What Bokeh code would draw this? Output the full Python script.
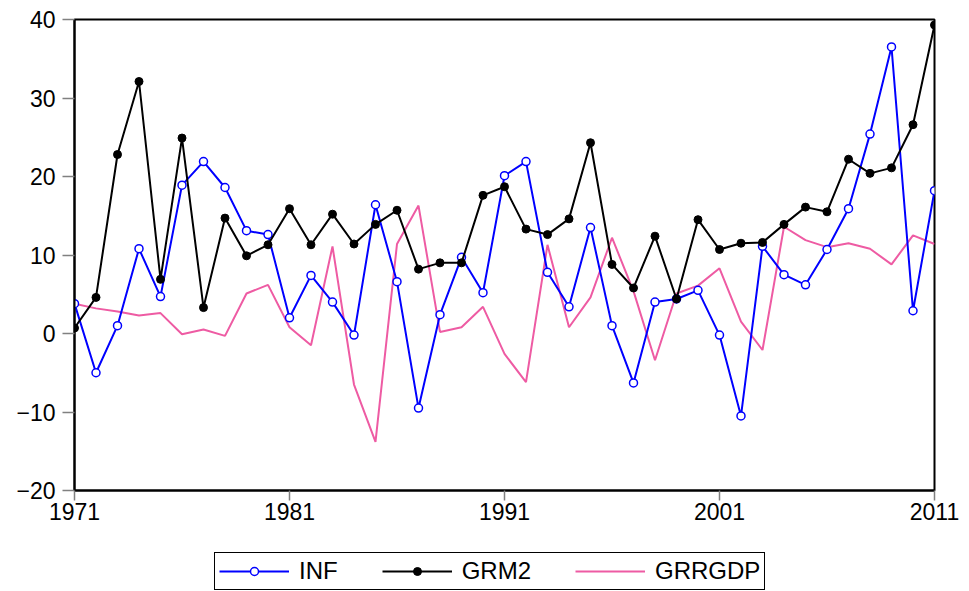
from bokeh.plotting import figure
from bokeh.models import Range1d, FixedTicker, Legend, LegendItem
from bokeh.layouts import column
from bokeh.embed import file_html
from bokeh.resources import INLINE

years = list(range(1971, 2012))

INF = [3.8, -5.0, 1.0, 10.8, 4.7, 18.9, 21.9, 18.6, 13.1, 12.6,
       2.0, 7.4, 4.0, -0.2, 16.4, 6.6, -9.5, 2.4, 9.7, 5.2,
       20.1, 21.9, 7.8, 3.4, 13.5, 1.0, -6.3, 4.0, 4.4, 5.5,
       -0.2, -10.5, 11.1, 7.5, 6.2, 10.7, 15.9, 25.4, 36.5, 2.9,
       18.2]

GRM2 = [0.7, 4.6, 22.8, 32.1, 6.9, 24.9, 3.3, 14.7, 9.9, 11.3,
        15.9, 11.3, 15.2, 11.4, 13.9, 15.7, 8.2, 9.0, 9.0, 17.6,
        18.7, 13.3, 12.6, 14.6, 24.3, 8.8, 5.8, 12.4, 4.4, 14.5,
        10.7, 11.5, 11.6, 13.9, 16.1, 15.5, 22.2, 20.4, 21.1, 26.6,
        39.3]

GRRGDP = [3.8, 3.2, 2.8, 2.3, 2.6, -0.1, 0.5, -0.3, 5.1, 6.2,
          0.8, -1.5, 11.1, -6.5, -13.8, 11.4, 16.3, 0.2, 0.8, 3.4,
          -2.6, -6.2, 11.3, 0.8, 4.6, 12.2, 5.4, -3.4, 5.1, 6.1,
          8.3, 1.5, -2.1, 13.6, 11.9, 11.0, 11.5, 10.8, 8.8, 12.5,
          11.4]

x_ticks = [1971, 1981, 1991, 2001, 2011]
y_ticks = [-20, -10, 0, 10, 20, 30, 40]

FONT = "Liberation Sans"
PINK = "#EE5BA3"

p = figure(width=969, height=536, output_backend="svg", toolbar_location=None,
           x_range=Range1d(1971, 2011), y_range=Range1d(-20, 40),
           min_border_left=74, min_border_right=35, min_border_top=19,
           min_border_bottom=46)
p.xgrid.visible = False
p.ygrid.visible = False
p.outline_line_color = "black"
p.outline_line_width = 2
p.background_fill_color = "white"
p.border_fill_color = "white"

for ax, ticks in ((p.xaxis, x_ticks), (p.yaxis, y_ticks)):
    ax.ticker = FixedTicker(ticks=ticks, minor_ticks=[])
    ax.major_tick_in = 0
    ax.minor_tick_out = 0
    ax.minor_tick_in = 0
    ax.major_tick_line_color = "#808080"
    ax.major_tick_line_width = 1.5
    ax.axis_line_color = "black"
    ax.axis_line_width = 2
    ax.major_label_text_font = FONT
    ax.major_label_text_font_size = "23px"
    ax.major_label_text_color = "black"

p.xaxis.major_tick_out = 10
p.xaxis.major_label_standoff = 2
p.yaxis.major_tick_out = 12
p.yaxis.major_label_standoff = 7


def draw_series(fig):
    g = fig.line(years, GRRGDP, line_color=PINK, line_width=2)
    il = fig.line(years, INF, line_color="blue", line_width=2)
    ip = fig.scatter(years, INF, marker="circle", size=8, fill_color="white",
                     line_color="blue", line_width=1.5)
    ml = fig.line(years, GRM2, line_color="black", line_width=2)
    mp = fig.scatter(years, GRM2, marker="circle", size=8, fill_color="black",
                     line_color="black", line_width=1)
    return g, il, ip, ml, mp


draw_series(p)

# legend strip below the chart (series drawn off-view, used only as legend keys)
q = figure(width=969, height=55, output_backend="svg", toolbar_location=None,
           x_range=Range1d(0, 1), y_range=Range1d(0, 1),
           x_axis_type=None, y_axis_type=None, min_border=0)
q.xgrid.visible = False
q.ygrid.visible = False
q.outline_line_color = None
q.background_fill_color = "white"
q.border_fill_color = "white"
g, il, ip, ml, mp = draw_series(q)

legend = Legend(items=[LegendItem(label="INF", renderers=[il, ip]),
                       LegendItem(label="GRM2", renderers=[ml, mp]),
                       LegendItem(label="GRRGDP", renderers=[g])],
                orientation="horizontal", location=(140, 1), margin=0,
                padding=4, spacing=44, glyph_width=70, label_standoff=10,
                border_line_color="black", border_line_width=1.5,
                border_line_alpha=1.0, label_text_color="black",
                label_text_font=FONT, label_text_font_size="24px",
                background_fill_color="white", background_fill_alpha=1)
q.add_layout(legend)

layout = column(p, q, spacing=0)
open("out.html", "w").write(file_html(layout, INLINE))
